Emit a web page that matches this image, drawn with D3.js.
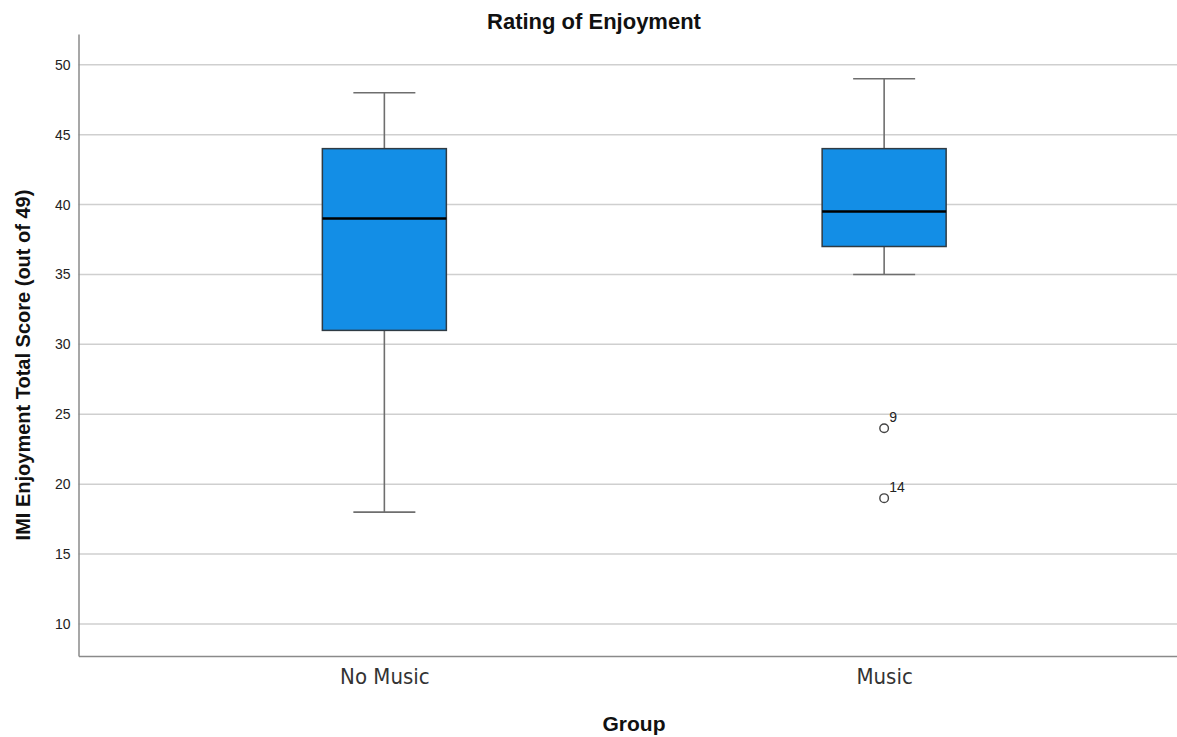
<!DOCTYPE html>
<html>
<head>
<meta charset="utf-8">
<script src="https://cdn.jsdelivr.net/npm/d3@7/dist/d3.min.js"></script>
<style>
  html, body { margin: 0; padding: 0; background: #fff; }
  svg { display: block; }
</style>
</head>
<body>
<svg id="chart" width="1177" height="737"></svg>
<script>
// Box plot summaries per group
const groups = ["No Music", "Music"];
const whiskerLow = [18, 35];
const q1 = [31, 37];
const median = [39, 39.5];
const q3 = [44, 44];
const whiskerHigh = [48, 49];
// Outlying cases (group, value, case label)
const outlierGroup = ["Music", "Music"];
const outlierValue = [24, 19];
const outlierLabel = ["9", "14"];
const yTicks = [10, 15, 20, 25, 30, 35, 40, 45, 50];

const svg = d3.select("#chart");
const W = 1177, H = 737;
const m = { left: 78.5, right: -13, top: 34, bottom: 81 };
const plotBottom = H - m.bottom;

const y = d3.scaleLinear().domain([7.71, 52.2]).range([plotBottom, m.top]);
const x = d3.scalePoint().domain(groups).range([m.left, W - m.right]).padding(0.612);

// Gridlines
svg.append("g")
  .selectAll("line")
  .data(yTicks)
  .join("line")
  .attr("x1", m.left).attr("x2", W)
  .attr("y1", d => y(d)).attr("y2", d => y(d))
  .attr("stroke", "#cfcfcf").attr("stroke-width", 1.5);

// Y axis
const yAxis = svg.append("g")
  .attr("transform", `translate(${m.left},0)`)
  .call(d3.axisLeft(y).tickValues(yTicks).tickSize(0).tickPadding(8));
yAxis.select(".domain").attr("stroke", "#8a8a8a").attr("stroke-width", 1.5);
yAxis.selectAll("text")
  .attr("font-family", "Liberation Sans, Arial, sans-serif")
  .attr("font-size", 14).attr("fill", "#222");

// X axis
const xAxis = svg.append("g")
  .attr("transform", `translate(0,${plotBottom})`)
  .call(d3.axisBottom(x).tickSize(0).tickPadding(12));
xAxis.select(".domain").attr("stroke", "#8a8a8a").attr("stroke-width", 1.5);
xAxis.selectAll("text")
  .attr("font-family", "Liberation Sans Narrow, DejaVu Sans Condensed, sans-serif")
  .attr("font-size", 22).attr("fill", "#333");

const boxW = 124, capW = 62;
const g = svg.append("g");
groups.forEach((grp, i) => {
  const cx = x(grp);
  // whisker stems
  g.append("line").attr("x1", cx).attr("x2", cx)
    .attr("y1", y(whiskerHigh[i])).attr("y2", y(q3[i]))
    .attr("stroke", "#6e6e6e").attr("stroke-width", 1.6);
  g.append("line").attr("x1", cx).attr("x2", cx)
    .attr("y1", y(q1[i])).attr("y2", y(whiskerLow[i]))
    .attr("stroke", "#6e6e6e").attr("stroke-width", 1.6);
  // caps
  [whiskerHigh[i], whiskerLow[i]].forEach(v => {
    g.append("line").attr("x1", cx - capW / 2).attr("x2", cx + capW / 2)
      .attr("y1", y(v)).attr("y2", y(v))
      .attr("stroke", "#6e6e6e").attr("stroke-width", 1.6);
  });
  // box
  g.append("rect")
    .attr("x", cx - boxW / 2).attr("width", boxW)
    .attr("y", y(q3[i])).attr("height", y(q1[i]) - y(q3[i]))
    .attr("fill", "#138ee6").attr("stroke", "#2f3b44").attr("stroke-width", 1.5);
  // median
  g.append("line").attr("x1", cx - boxW / 2).attr("x2", cx + boxW / 2)
    .attr("y1", y(median[i])).attr("y2", y(median[i]))
    .attr("stroke", "#000").attr("stroke-width", 2.6);
});

// Outliers
outlierValue.forEach((v, i) => {
  const cx = x(outlierGroup[i]), cy = y(v);
  g.append("circle").attr("cx", cx).attr("cy", cy).attr("r", 4.3)
    .attr("fill", "none").attr("stroke", "#444").attr("stroke-width", 1.4);
  g.append("text").attr("x", cx + 5).attr("y", cy - 6)
    .attr("font-family", "Liberation Sans, Arial, sans-serif")
    .attr("font-size", 14).attr("fill", "#222")
    .text(outlierLabel[i]);
});

// Title and axis titles
svg.append("text").attr("x", 594).attr("y", 29).attr("text-anchor", "middle")
  .attr("font-family", "Liberation Sans, Arial, sans-serif")
  .attr("font-size", 22).attr("font-weight", "bold").attr("fill", "#111")
  .text("Rating of Enjoyment");
svg.append("text").attr("x", 634).attr("y", 731).attr("text-anchor", "middle")
  .attr("font-family", "Liberation Sans, Arial, sans-serif")
  .attr("font-size", 21).attr("font-weight", "bold").attr("fill", "#111")
  .text("Group");
svg.append("text")
  .attr("transform", `translate(30,365) rotate(-90)`)
  .attr("text-anchor", "middle")
  .attr("font-family", "Liberation Sans, Arial, sans-serif")
  .attr("font-size", 20).attr("font-weight", "bold").attr("fill", "#111")
  .text("IMI Enjoyment Total Score (out of 49)");
</script>
</body>
</html>
